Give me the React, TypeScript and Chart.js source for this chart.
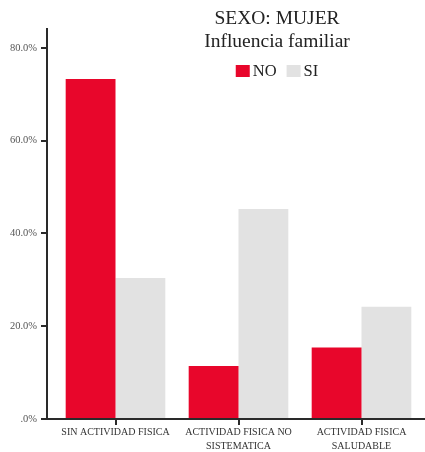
import React, { useEffect, useRef } from "react";
import { Chart, registerables } from "chart.js";

Chart.register(...registerables);

const titleLines = ["SEXO: MUJER", "Influencia familiar"];
const categories = [
  ["SIN ACTIVIDAD FISICA"],
  ["ACTIVIDAD FISICA NO", "SISTEMATICA"],
  ["ACTIVIDAD FISICA", "SALUDABLE"],
];
const seriesNames = ["NO", "SI"];
const noValues = [73.3, 11.4, 15.4];
const siValues = [30.4, 45.3, 24.2];
const seriesColors = ["#E8062B", "#E2E2E2"];

const SERIF = "'Liberation Serif', 'DejaVu Serif', serif";

const decorPlugin = {
  id: "decor",
  afterDraw(chart: any) {
    const ctx = chart.ctx;
    const y = chart.scales.y;
    const x = chart.scales.x;
    const ca = chart.chartArea;
    const axisX = ca.left - 7;
    ctx.save();
    ctx.strokeStyle = "#2a2a2a";
    ctx.lineWidth = 2;
    ctx.beginPath();
    ctx.moveTo(axisX, ca.top);
    ctx.lineTo(axisX, ca.bottom + 1);
    ctx.moveTo(axisX, ca.bottom);
    ctx.lineTo(chart.width, ca.bottom);
    y.ticks.forEach((t: any) => {
      const py = Math.round(y.getPixelForValue(t.value));
      ctx.moveTo(axisX - 6, py);
      ctx.lineTo(axisX, py);
    });
    categories.forEach((_c, i) => {
      const px = Math.round(x.getPixelForValue(i));
      ctx.moveTo(px, ca.bottom);
      ctx.lineTo(px, ca.bottom + 6);
    });
    ctx.stroke();

    // title
    const cx = 277;
    ctx.fillStyle = "#222";
    ctx.textAlign = "center";
    ctx.textBaseline = "alphabetic";
    ctx.font = `19.5px ${SERIF}`;
    ctx.fillText(titleLines[0], cx, 24);
    ctx.fillText(titleLines[1], cx, 47);

    // legend
    ctx.font = `16.5px ${SERIF}`;
    ctx.textAlign = "left";
    const boxW = 14, boxH = 12, gapBox = 3, gapItem = 10;
    const items = chart.data.datasets.map((d: any) => ({
      label: d.label,
      color: d.backgroundColor,
      w: ctx.measureText(d.label).width,
    }));
    const total = items.reduce((s: number, it: any) => s + boxW + gapBox + it.w, 0) + gapItem * (items.length - 1);
    let lx = cx - total / 2;
    items.forEach((it: any) => {
      ctx.fillStyle = it.color;
      ctx.fillRect(lx, 65, boxW, boxH);
      ctx.fillStyle = "#222";
      ctx.fillText(it.label, lx + boxW + gapBox, 76);
      lx += boxW + gapBox + it.w + gapItem;
    });
    ctx.restore();
  },
};

export default function App() {
  const ref = useRef<HTMLCanvasElement>(null);
  useEffect(() => {
    if (!ref.current) return;
    const chart = new Chart(ref.current, {
      type: "bar",
      data: {
        labels: categories as any,
        datasets: [
          { label: seriesNames[0], data: noValues, backgroundColor: seriesColors[0] },
          { label: seriesNames[1], data: siValues, backgroundColor: seriesColors[1] },
        ],
      },
      options: {
        animation: false,
        responsive: false,
        layout: { padding: { top: 28, right: 2, left: 0, bottom: 0 } },
        datasets: { bar: { categoryPercentage: 0.81, barPercentage: 1 } } as any,
        plugins: {
          legend: { display: false },
          title: { display: false },
          tooltip: { enabled: false },
        },
        scales: {
          x: {
            grid: { display: false, drawTicks: false },
            border: { display: false },
            ticks: {
              padding: 7,
              color: "#333",
              font: { family: SERIF, size: 10, lineHeight: 1.35 },
              maxRotation: 0,
              autoSkip: false,
            },
            afterFit: (s: any) => {
              s.height = 33;
            },
          },
          y: {
            min: 0,
            max: 84.3,
            grid: { display: false, drawTicks: false },
            border: { display: false },
            ticks: {
              stepSize: 20,
              includeBounds: false,
              padding: 17,
              color: "#555",
              font: { family: SERIF, size: 10.5 },
              callback: (v: any) => (Number(v) === 0 ? ".0%" : Number(v).toFixed(1) + "%"),
            },
            afterFit: (s: any) => {
              s.width = 54;
            },
          },
        },
      },
      plugins: [decorPlugin],
    });
    return () => chart.destroy();
  }, []);
  return (
    <div style={{ position: "fixed", left: 0, top: 0, width: 425, height: 452, background: "#fff" }}>
      <canvas ref={ref} width={425} height={452} style={{ display: "block" }} />
    </div>
  );
}
